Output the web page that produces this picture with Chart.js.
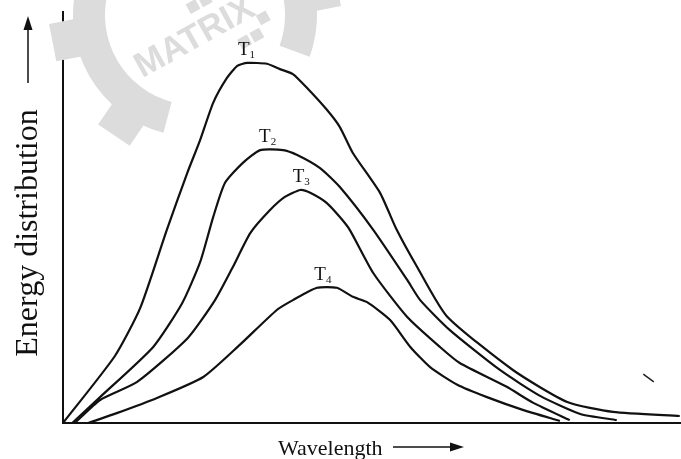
<!DOCTYPE html>
<html>
<head>
<meta charset="utf-8">
<script src="https://cdn.jsdelivr.net/npm/chart.js@4.4.1/dist/chart.umd.min.js"></script>
<style>
  html, body { margin: 0; padding: 0; background: #fff; }
  #wrap { width: 681px; height: 459px; }
</style>
</head>
<body>
<div id="wrap"><canvas id="c" width="681" height="459"></canvas></div>
<script>
// Blackbody-style energy distribution curves at four temperatures (arbitrary units)
const seriesNames = ['T1', 'T2', 'T3', 'T4'];

const wavelengthT1 = [0, 8.4, 12.5, 16.8, 20.1, 22.2, 24.3, 26.5, 28.2, 29.8, 33.0, 35.1, 37.2, 39.5, 42.7, 44.8, 46.9, 51.3, 54.0, 57.4, 62.1, 72.8, 81.6, 89.0, 99.8];
const energyT1     = [0, 16.3, 28.0, 47.0, 60.8, 68.9, 77.9, 83.9, 86.9, 87.6, 87.4, 86.1, 84.9, 81.5, 76.2, 72.0, 65.7, 56.0, 47.0, 37.7, 26.0, 12.9, 5.1, 2.7, 1.7];

const wavelengthT2 = [1.5, 6.0, 14.6, 19.3, 22.2, 24.3, 26.2, 29.1, 31.9, 35.6, 37.9, 41.6, 44.8, 50.2, 55.7, 57.8, 62.6, 70.7, 77.2, 83.7, 89.6];
const energyT2     = [0, 6.3, 18.5, 29.2, 39.2, 50.1, 58.4, 63.3, 66.4, 66.4, 65.2, 62.0, 57.4, 47.0, 34.8, 29.9, 22.6, 12.9, 6.6, 2.2, 0.7];

const wavelengthT3 = [1.9, 6.0, 12.0, 20.2, 24.6, 27.4, 30.3, 33.5, 35.9, 38.4, 40.0, 42.7, 44.8, 46.4, 50.2, 55.7, 61.0, 64.2, 71.8, 76.1, 82.0];
const energyT3     = [0, 5.6, 10.0, 20.7, 29.9, 37.7, 46.2, 51.8, 55.0, 56.7, 56.0, 53.5, 50.1, 47.0, 36.5, 25.8, 18.5, 14.6, 8.8, 4.9, 0.7];

const wavelengthT4 = [4.1, 8.7, 15.2, 22.7, 28.6, 34.6, 37.2, 41.1, 44.3, 46.9, 49.2, 52.9, 56.2, 59.4, 63.8, 68.6, 74.4, 80.4];
const energyT4     = [0, 2.4, 6.1, 11.2, 19.0, 27.5, 29.9, 32.9, 32.9, 30.7, 29.4, 25.1, 18.5, 13.6, 9.3, 6.3, 3.2, 0.5];

// short stray stroke near the lower right
const strokeX = [93.9, 95.6];
const strokeY = [11.9, 10.0];

const zip = (xs, ys) => xs.map((x, i) => ({ x, y: ys[i] }));

const curves = [
  zip(wavelengthT1, energyT1),
  zip(wavelengthT2, energyT2),
  zip(wavelengthT3, energyT3),
  zip(wavelengthT4, energyT4)
];

const datasets = curves.map((pts, i) => ({
  label: seriesNames[i],
  data: pts,
  borderColor: '#111',
  borderWidth: 2.2,
  tension: 0.2,
  pointRadius: 0,
  fill: false
}));
datasets.push({
  label: 'stroke',
  data: zip(strokeX, strokeY),
  borderColor: '#222',
  borderWidth: 1.5,
  pointRadius: 0,
  tension: 0
});

const GRAY = '#dcdcdc';
const SERIF = '"Liberation Serif", "Times New Roman", serif';

// faint gear emblem behind the plot
const emblem = {
  id: 'emblem',
  beforeDatasetsDraw(chart) {
    const c = chart.ctx;
    const cx = 195, cy = 15, rIn = 90, rOut = 122, rTooth = 145;
    const rad = d => d * Math.PI / 180;
    c.save();
    c.fillStyle = GRAY;
    // ring segment
    c.beginPath();
    c.arc(cx, cy, rOut, rad(105), rad(380));
    c.arc(cx, cy, rIn, rad(380), rad(105), true);
    c.closePath();
    c.fill();
    // teeth
    [124, 169, 214, 259, 304, 349].forEach(a => {
      c.save();
      c.translate(cx, cy);
      c.rotate(rad(a));
      c.fillRect(rOut - 4, -19, rTooth - rOut + 4, 38);
      c.restore();
    });
    // wordmark
    c.translate(195, 38);
    c.rotate(rad(-29));
    c.font = 'bold 35px "Liberation Sans", Arial, sans-serif';
    c.textAlign = 'center';
    c.textBaseline = 'middle';
    c.fillText('MATRIX', 0, 0);
    [[8, -34], [22, -34], [36, 22], [50, 22], [64, 10]].forEach(([x, y]) => c.fillRect(x, y, 11, 11));
    c.restore();
  }
};

// curve tags, axis titles and arrows
const annotations = {
  id: 'annotations',
  afterDatasetsDraw(chart) {
    const c = chart.ctx;
    const xs = chart.scales.x, ys = chart.scales.y;
    c.save();
    c.fillStyle = '#111';
    c.strokeStyle = '#111';

    curves.forEach((pts, i) => {
      const peak = Math.max(...pts.map(p => p.y));
      const top = pts.filter(p => p.y >= peak - 1);
      const mx = top.reduce((s, p) => s + p.x, 0) / top.length;
      const px = xs.getPixelForValue(mx) - 4;
      const py = ys.getPixelForValue(peak) - 8;
      c.font = '19px ' + SERIF;
      const tw = c.measureText('T').width;
      c.font = '11px ' + SERIF;
      const sw = c.measureText(String(i + 1)).width;
      const left = px - (tw + sw) / 2;
      c.font = '19px ' + SERIF;
      c.textAlign = 'left';
      c.textBaseline = 'alphabetic';
      c.fillText('T', left, py);
      c.font = '11px ' + SERIF;
      c.fillText(String(i + 1), left + tw, py + 3);
    });

    // x title
    c.font = '22px ' + SERIF;
    c.textAlign = 'left';
    c.textBaseline = 'alphabetic';
    c.fillText('Wavelength', 278, 455);
    c.lineWidth = 1.5;
    c.beginPath(); c.moveTo(393, 447); c.lineTo(452, 447); c.stroke();
    c.beginPath(); c.moveTo(464, 447); c.lineTo(450, 442.5); c.lineTo(450, 451.5); c.closePath(); c.fill();

    // y title
    c.save();
    c.translate(37, 233);
    c.rotate(-Math.PI / 2);
    c.font = '32px ' + SERIF;
    c.textAlign = 'center';
    c.fillText('Energy distribution', 0, 0);
    c.restore();
    c.beginPath(); c.moveTo(28, 83); c.lineTo(28, 28); c.stroke();
    c.beginPath(); c.moveTo(28, 16); c.lineTo(23.5, 30); c.lineTo(32.5, 30); c.closePath(); c.fill();
    c.restore();
  }
};

new Chart(document.getElementById('c'), {
  type: 'line',
  data: { datasets },
  options: {
    responsive: false,
    animation: false,
    devicePixelRatio: 1,
    layout: { padding: { left: 63, top: 12, right: 0, bottom: 36 } },
    plugins: { legend: { display: false }, tooltip: { enabled: false } },
    scales: {
      x: {
        type: 'linear', min: 0, max: 100,
        grid: { display: false, drawTicks: false },
        ticks: { display: false },
        border: { display: true, color: '#111', width: 2 },
        afterFit(s) { s.height = 0; }
      },
      y: {
        type: 'linear', min: 0, max: 100,
        grid: { display: false, drawTicks: false },
        ticks: { display: false },
        border: { display: true, color: '#111', width: 2 },
        afterFit(s) { s.width = 0; }
      }
    }
  },
  plugins: [emblem, annotations]
});
</script>
</body>
</html>
